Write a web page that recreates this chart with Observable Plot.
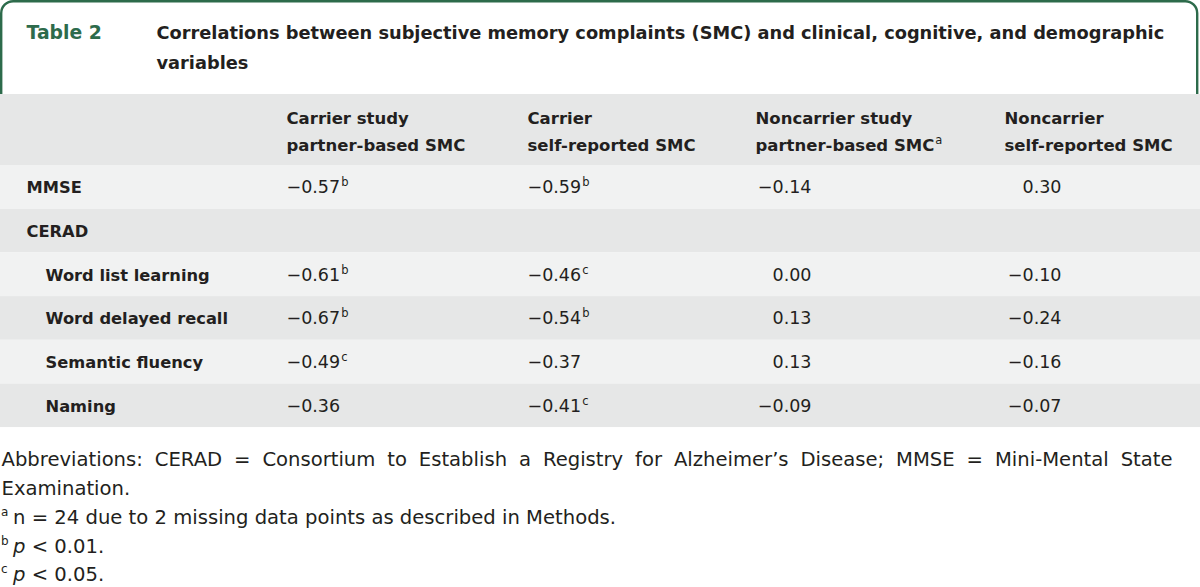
<!DOCTYPE html>
<html><head><meta charset="utf-8">
<script src="https://cdn.jsdelivr.net/npm/d3@7"></script>
<script src="https://cdn.jsdelivr.net/npm/@observablehq/plot@0.6"></script>
<style>body{margin:0;background:#fff}</style>
</head><body><div id="chart"></div>
<script>
// ---------- data ----------
const tableNumber = "Table 2";
const titleLines = ["Correlations between subjective memory complaints (SMC) and clinical, cognitive, and demographic", "variables"];
const columnHeaders = ["Carrier study\npartner-based SMC", "Carrier\nself-reported SMC", "Noncarrier study\npartner-based SMC", "Noncarrier\nself-reported SMC"];
const columnHeaderNotes = ["", "", "a", ""];
const rowLabels = ["MMSE", "CERAD", "Word list learning", "Word delayed recall", "Semantic fluency", "Naming"];
const rowLevels = [0, 0, 1, 1, 1, 1];
const carrierPartner = [-0.57, null, -0.61, -0.67, -0.49, -0.36];
const carrierPartnerNotes = ["b", "", "b", "b", "c", ""];
const carrierSelf = [-0.59, null, -0.46, -0.54, -0.37, -0.41];
const carrierSelfNotes = ["b", "", "c", "b", "", "c"];
const noncarrierPartner = [-0.14, null, 0.00, 0.13, 0.13, -0.09];
const noncarrierPartnerNotes = ["", "", "", "", "", ""];
const noncarrierSelf = [0.30, null, -0.10, -0.24, -0.16, -0.07];
const noncarrierSelfNotes = ["", "", "", "", "", ""];
const abbreviationLines = ["Abbreviations: CERAD = Consortium to Establish a Registry for Alzheimer\u2019s Disease; MMSE = Mini-Mental State", "Examination."];
const footnoteMarks = ["a", "b", "c"];
const footnoteItalic = ["", "p", "p"];
const footnoteTexts = ["n = 24 due to 2 missing data points as described in Methods.", " < 0.01.", " < 0.05."];

// ---------- layout ----------
const W = 1200, H = 587;
const FONT = "DejaVu Sans";
const green = "#2d6b4b", ink = "#231f20";
const bandDark = "#e6e7e7", bandLight = "#f1f2f2";
const headerTop = 94, rowTop0 = 165, rowH = 43.7;
const colHeaderX = [286, 527, 755, 1004];
const colAnchor = ["start", "start", "end", "end"];
const colValueX = [286, 527, 811, 1061];
const labelX = [26, 45];
const TITLE_SIZE = 17.8, HEAD_SIZE = 16.5, LABEL_SIZE = 16.3, VAL_SIZE = 17.5, NOTE_SIZE = 11.5, FOOT_SIZE = 19.6;
const footBase = [465, 494, 523, 552, 580];
const textRight = 1172;

const ctx = document.createElement("canvas").getContext("2d");
function textWidth(s, size, weight = "normal", style = "normal") {
  ctx.font = `${style} ${weight} ${size}px "${FONT}"`;
  return ctx.measureText(s).width;
}
const rowBase = (i) => rowTop0 + (i + 0.5) * rowH + 6;

const columns = [carrierPartner, carrierSelf, noncarrierPartner, noncarrierSelf];
const columnNotes = [carrierPartnerNotes, carrierSelfNotes, noncarrierPartnerNotes, noncarrierSelfNotes];
const fmt = d3.format(".2f");
const cells = [];
columns.forEach((vals, c) => vals.forEach((v, r) => {
  if (v == null) return;
  const text = fmt(v);
  const w = textWidth(text, VAL_SIZE);
  const right = colAnchor[c] === "start" ? colValueX[c] + w : colValueX[c];
  cells.push({c, r, text, anchor: colAnchor[c], x: colValueX[c], y: rowBase(r), note: columnNotes[c][r], noteX: right + 1});
}));
const rows = rowLabels.map((label, i) => ({label, i, level: rowLevels[i]}));
const headers = columnHeaders.map((text, i) => ({text, i, note: columnHeaderNotes[i],
  noteX: colHeaderX[i] + textWidth(text.split("\n").pop(), HEAD_SIZE, "bold") + 1}));
const headBase = 150, headLine = 27;

const footRows = [
  ...abbreviationLines.map((t, i) => ({mark: "", italic: "", text: t, y: footBase[i], x: 1})),
  ...footnoteTexts.map((t, i) => ({mark: footnoteMarks[i], italic: footnoteItalic[i], text: t, y: footBase[i + 2],
    x: 12.5 + (footnoteItalic[i] ? textWidth(footnoteItalic[i], FOOT_SIZE, "normal", "oblique") : 0)}))
];

const plot = Plot.plot({
  width: W, height: H, margin: 0,
  x: {domain: [0, W], range: [0, W], axis: null},
  y: {domain: [0, H], range: [0, H], axis: null},
  color: {type: "identity"},
  style: {fontFamily: FONT, background: "#fff"},
  marks: [
    // title panel border
    Plot.rect([0], {x1: 1.2, x2: W - 2.8, y1: 1.2, y2: 140, rx: 12, ry: 12, fill: "#fff", stroke: green, strokeWidth: 2.4}),
    // header band and rows
    Plot.rect([0], {x1: 0, x2: W, y1: headerTop, y2: rowTop0, fill: bandDark}),
    Plot.rect(rows, {x1: 0, x2: W, y1: d => rowTop0 + d.i * rowH, y2: d => rowTop0 + (d.i + 1) * rowH,
      fill: d => d.i % 2 ? bandDark : bandLight}),
    Plot.rect([0], {x1: 0, x2: W, y1: rowTop0 + rows.length * rowH, y2: H, fill: "#fff"}),
    // title
    Plot.text([tableNumber], {x: 26, y: 38, text: d => d, textAnchor: "start", lineAnchor: "bottom",
      fontWeight: "bold", fontSize: 18.8, fill: green}),
    Plot.text([titleLines.join("\n")], {x: 156, y: 68, text: d => d, textAnchor: "start", lineAnchor: "bottom",
      lineHeight: 30 / TITLE_SIZE, fontWeight: "bold", fontSize: TITLE_SIZE, fill: ink}),
    // column headers
    Plot.text(headers, {x: d => colHeaderX[d.i], y: headBase, text: "text", textAnchor: "start", lineAnchor: "bottom",
      lineHeight: headLine / HEAD_SIZE, fontWeight: "bold", fontSize: HEAD_SIZE, fill: ink}),
    Plot.text(headers.filter(d => d.note), {x: "noteX", y: headBase - 7, text: "note", textAnchor: "start", lineAnchor: "bottom",
      fontSize: NOTE_SIZE, fill: ink}),
    // row labels
    Plot.text(rows, {x: d => labelX[d.level], y: d => rowBase(d.i), text: "label", textAnchor: "start", lineAnchor: "bottom",
      fontWeight: "bold", fontSize: LABEL_SIZE, fill: ink}),
    // values
    Plot.text(cells.filter(d => d.anchor === "start"), {x: "x", y: "y", text: "text", textAnchor: "start", lineAnchor: "bottom",
      fontSize: VAL_SIZE, fill: ink}),
    Plot.text(cells.filter(d => d.anchor === "end"), {x: "x", y: "y", text: "text", textAnchor: "end", lineAnchor: "bottom",
      fontSize: VAL_SIZE, fill: ink}),
    Plot.text(cells.filter(d => d.note), {x: "noteX", y: d => d.y - 7, text: "note", textAnchor: "start", lineAnchor: "bottom",
      fontSize: NOTE_SIZE, fill: ink}),
    // footnotes
    Plot.text(footRows.filter(d => d.mark), {x: 0.5, y: d => d.y - 8, text: "mark", textAnchor: "start", lineAnchor: "bottom",
      fontSize: 12, fill: ink}),
    Plot.text(footRows.filter(d => d.italic), {x: 12.5, y: "y", text: "italic", textAnchor: "start", lineAnchor: "bottom",
      fontSize: FOOT_SIZE, fontStyle: "oblique", fill: ink}),
    Plot.text(footRows, {x: "x", y: "y", text: "text", textAnchor: "start", lineAnchor: "bottom",
      fontSize: FOOT_SIZE, fill: ink})
  ]
});
document.getElementById("chart").appendChild(plot);

// justify the first abbreviation line across the text block
const first = abbreviationLines[0];
const natural = textWidth(first, FOOT_SIZE);
const spaces = first.split(" ").length - 1;
d3.select(plot).selectAll("text").filter(function() { return this.textContent === first; })
  .style("word-spacing", `${(textRight - 1 - natural) / spaces}px`);
</script>
</body></html>
